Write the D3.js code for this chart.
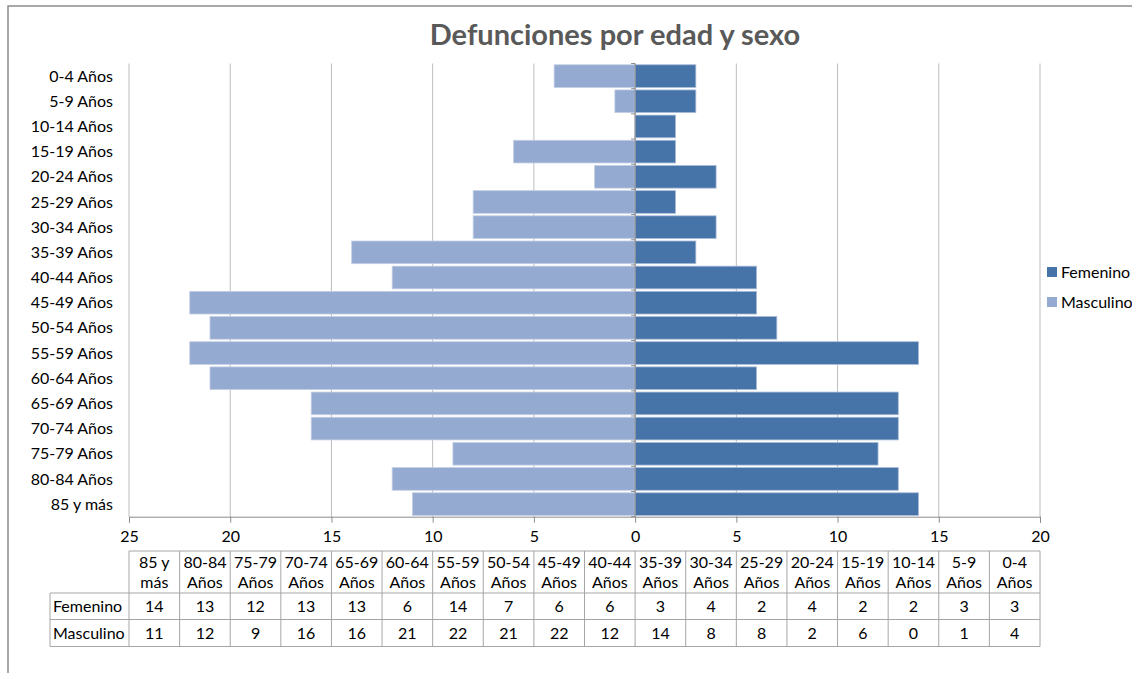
<!DOCTYPE html>
<html>
<head>
<meta charset="utf-8">
<script src="https://cdn.jsdelivr.net/npm/d3@7"></script>
<style>
  body { margin: 0; background: #fff; }
  svg text { font-family: Lato, "Liberation Sans", sans-serif; fill: #000; }
</style>
</head>
<body>
<div id="chart"></div>
<script>
// categories in data order (bottom of chart first, left of table first)
const categorias = ["85 y más", "80-84 Años", "75-79 Años", "70-74 Años", "65-69 Años",
  "60-64 Años", "55-59 Años", "50-54 Años", "45-49 Años", "40-44 Años", "35-39 Años",
  "30-34 Años", "25-29 Años", "20-24 Años", "15-19 Años", "10-14 Años", "5-9 Años", "0-4 Años"];
const femenino  = [14, 13, 12, 13, 13, 6, 14, 7, 6, 6, 3, 4, 2, 4, 2, 2, 3, 3];
const masculino = [11, 12, 9, 16, 16, 21, 22, 21, 22, 12, 14, 8, 8, 2, 6, 0, 1, 4];
const series = ["Femenino", "Masculino"];
const ticksX = [-25, -20, -15, -10, -5, 0, 5, 10, 15, 20];

const width = 1132;
const height = 673;

const svg =
    d3.select("#chart")
      .append("svg")
      .attr("width", width)
      .attr("height", height);

// chart frame
svg.append("path")
   .attr("d", `M8,${height} L8,6 L${width},6`)
   .attr("fill", "none")
   .attr("stroke", "#8c8c8c")
   .attr("stroke-width", 1.5);

svg.append("text")
   .attr("x", 615)
   .attr("y", 45)
   .attr("text-anchor", "middle")
   .style("font-size", "29px")
   .style("font-weight", "bold")
   .style("fill", "#595959")
   .text("Defunciones por edad y sexo");

const x =
    d3.scaleLinear()
      .domain([-25, 20])
      .range([129, 1040]);

const y =
    d3.scaleBand()
      .domain(categorias.slice().reverse())
      .range([63.5, 516.7])
      .paddingInner(0.1)
      .paddingOuter(0.05);

const color =
    d3.scaleOrdinal()
      .domain(series)
      .range(["#4673a8", "#95aad1"]);

// gridlines
svg.append("g")
   .selectAll("line")
   .data(ticksX)
   .enter()
   .append("line")
   .attr("x1", d => x(d))
   .attr("x2", d => x(d))
   .attr("y1", 63.5)
   .attr("y2", 516.7)
   .attr("stroke", "#bdbdbd")
   .attr("stroke-width", 1);

// value axis
const ejeX =
    svg.append("g")
       .attr("transform", "translate(0,516.7)")
       .call(
           d3.axisBottom(x)
             .tickValues(ticksX)
             .tickSize(6)
             .tickPadding(8)
             .tickFormat(d => Math.abs(d))
       );
ejeX.select(".domain").attr("stroke", "#8c8c8c");
ejeX.selectAll(".tick line").attr("stroke", "#8c8c8c");
ejeX.selectAll(".tick text")
    .style("font-size", "16px")
    .style("font-family", "Lato, 'Liberation Sans', sans-serif");

const filas = categorias.map((c, i) => ({
    cat: c,
    fem: femenino[i],
    mas: masculino[i]
}));

// bars
svg.append("g")
   .selectAll("rect")
   .data(filas)
   .enter()
   .append("rect")
   .attr("x", d => x(-d.mas))
   .attr("y", d => y(d.cat))
   .attr("width", d => x(0) - x(-d.mas))
   .attr("height", y.bandwidth())
   .attr("fill", color("Masculino"))
   .attr("stroke", "#c3cfe5")
   .attr("stroke-width", 0.8);

svg.append("g")
   .selectAll("rect")
   .data(filas)
   .enter()
   .append("rect")
   .attr("x", x(0))
   .attr("y", d => y(d.cat))
   .attr("width", d => x(d.fem) - x(0))
   .attr("height", y.bandwidth())
   .attr("fill", color("Femenino"))
   .attr("stroke", "#a9bcd8")
   .attr("stroke-width", 0.8);

// category axis at zero
const ejeY =
    svg.append("g")
       .attr("transform", `translate(${x(0)},0)`);
ejeY.append("line")
    .attr("y1", 63.5)
    .attr("y2", 516.7)
    .attr("stroke", "#8c8c8c");
ejeY.selectAll("line.tk")
    .data(categorias.concat(["fin"]))
    .enter()
    .append("line")
    .attr("class", "tk")
    .attr("x1", -4)
    .attr("x2", 0)
    .attr("y1", (d, i) => 63.5 + i * y.step())
    .attr("y2", (d, i) => 63.5 + i * y.step())
    .attr("stroke", "#8c8c8c");

// category labels
svg.append("g")
   .selectAll("text")
   .data(categorias)
   .enter()
   .append("text")
   .attr("x", 113)
   .attr("y", d => y(d) + y.bandwidth() / 2)
   .attr("dy", "0.35em")
   .attr("text-anchor", "end")
   .style("font-size", "16px")
   .text(d => d);

// legend
const leyenda =
    svg.append("g")
       .selectAll("g")
       .data(series)
       .enter()
       .append("g")
       .attr("transform", (d, i) => `translate(1047,${272 + i * 30})`);
leyenda.append("rect")
       .attr("x", 0)
       .attr("y", -5)
       .attr("width", 10)
       .attr("height", 10)
       .attr("fill", d => color(d));
leyenda.append("text")
       .attr("x", 14)
       .attr("dy", "0.35em")
       .style("font-size", "16px")
       .text(d => d);

// data table
const col =
    d3.scaleBand()
      .domain(categorias)
      .range([129, 1040]);

const tabla = svg.append("g");
const lineaTabla = "#a6a6a6";
const yHead = 551, yFem = 593, yMas = 619.5, yFin = 646.5;

// horizontal lines
[[129, yHead], [50, yFem], [50, yMas], [50, yFin]].forEach(([x0, yy]) => {
    tabla.append("line")
         .attr("x1", x0)
         .attr("x2", 1040)
         .attr("y1", yy)
         .attr("y2", yy)
         .attr("stroke", lineaTabla);
});
// vertical lines
tabla.append("line")
     .attr("x1", 50).attr("x2", 50)
     .attr("y1", yFem).attr("y2", yFin)
     .attr("stroke", lineaTabla);
tabla.selectAll("line.v")
     .data(categorias.concat(["fin"]))
     .enter()
     .append("line")
     .attr("class", "v")
     .attr("x1", (d, i) => 129 + i * col.step())
     .attr("x2", (d, i) => 129 + i * col.step())
     .attr("y1", yHead)
     .attr("y2", yFin)
     .attr("stroke", lineaTabla);

// header labels, two lines
const cab =
    tabla.selectAll("text.h")
         .data(categorias)
         .enter()
         .append("text")
         .attr("class", "h")
         .attr("text-anchor", "middle")
         .style("font-size", "16px");
cab.append("tspan")
   .attr("x", d => col(d) + col.bandwidth() / 2)
   .attr("y", 568)
   .text(d => d.slice(0, d.lastIndexOf(" ")));
cab.append("tspan")
   .attr("x", d => col(d) + col.bandwidth() / 2)
   .attr("y", 588)
   .text(d => d.slice(d.lastIndexOf(" ") + 1));

// row labels
tabla.selectAll("text.r")
     .data(series)
     .enter()
     .append("text")
     .attr("class", "r")
     .attr("x", 53)
     .attr("y", (d, i) => (i === 0 ? (yFem + yMas) / 2 : (yMas + yFin) / 2))
     .attr("dy", "0.35em")
     .style("font-size", "16px")
     .text(d => d);

// values
tabla.selectAll("text.f")
     .data(filas)
     .enter()
     .append("text")
     .attr("class", "f")
     .attr("x", d => col(d.cat) + col.bandwidth() / 2)
     .attr("y", (yFem + yMas) / 2)
     .attr("dy", "0.35em")
     .attr("text-anchor", "middle")
     .style("font-size", "16px")
     .text(d => d.fem);

tabla.selectAll("text.m")
     .data(filas)
     .enter()
     .append("text")
     .attr("class", "m")
     .attr("x", d => col(d.cat) + col.bandwidth() / 2)
     .attr("y", (yMas + yFin) / 2)
     .attr("dy", "0.35em")
     .attr("text-anchor", "middle")
     .style("font-size", "16px")
     .text(d => d.mas);
</script>
</body>
</html>
